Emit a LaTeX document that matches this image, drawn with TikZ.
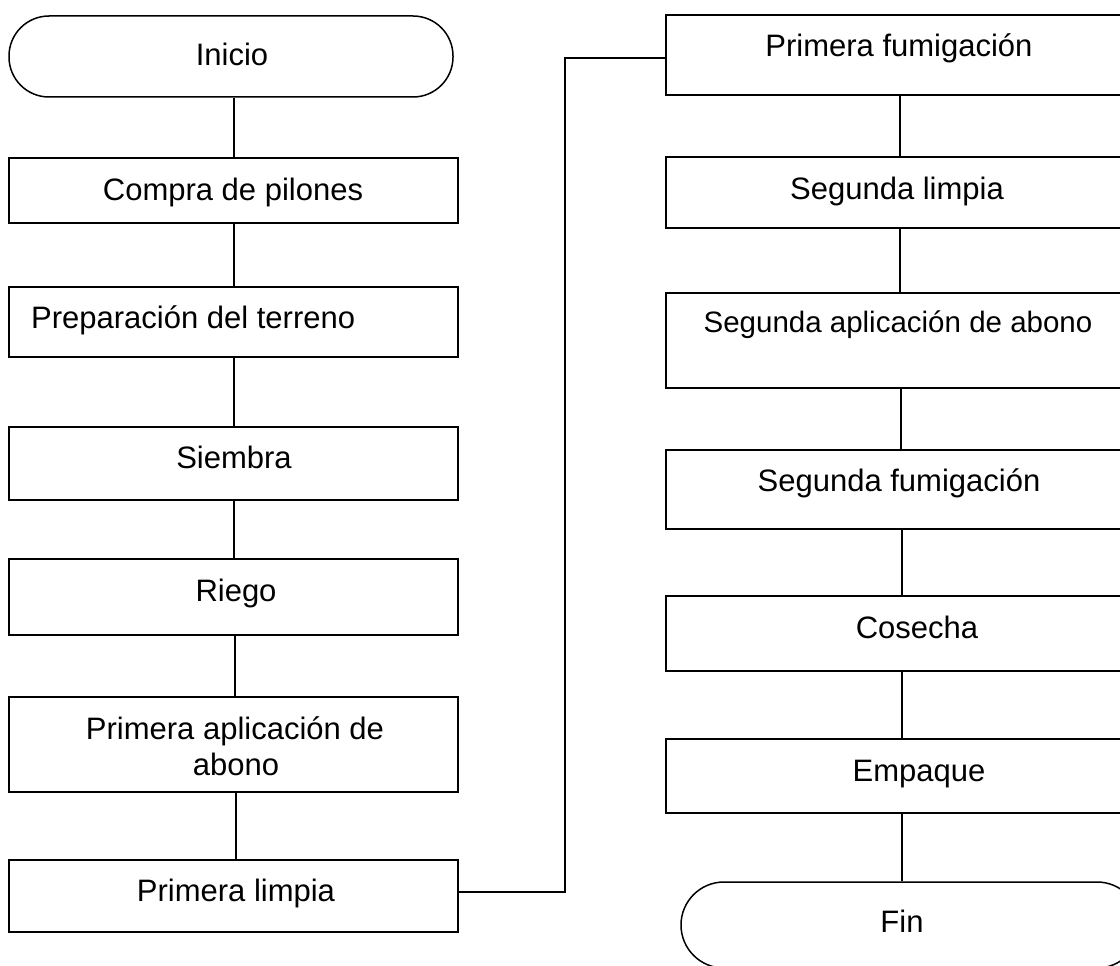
\documentclass[tikz,border=0pt]{standalone}
\usepackage{fontspec}
\setmainfont{Liberation Sans}
\begin{document}
\begin{tikzpicture}[x=1pt,y=-1pt,
  box/.style={draw, line width=1.5pt, inner sep=0pt, minimum width=449pt},
  rbox/.style={draw, line width=1.5pt, inner sep=0pt, minimum width=468pt},
  term/.style={draw, line width=1.5pt, inner sep=0pt},
  lbl/.style={anchor=base, inner sep=0pt, font=\fontsize{31}{36}\selectfont},
  conn/.style={line width=1.3pt}]
\path[use as bounding box] (0,0) rectangle (1120,966);
\clip (0,0) rectangle (1120,966);
% left column
\node[term, rounded corners=40pt, minimum width=444pt, minimum height=81pt] (inicio) at (231,56.5) {};
\node[box, minimum height=65pt] (compra) at (233.5,190.5) {};
\node[box, minimum height=70pt] (prep) at (233.5,322) {};
\node[box, minimum height=73pt] (siembra) at (233.5,463.5) {};
\node[box, minimum height=76pt] (riego) at (233.5,597) {};
\node[box, minimum height=95pt] (pabono) at (233.5,744.5) {};
\node[box, minimum height=72pt] (plimpia) at (233.5,896) {};
% right column
\node[rbox, minimum height=80pt] (pfum) at (900,55) {};
\node[rbox, minimum height=71pt] (slimpia) at (900,192.5) {};
\node[rbox, minimum height=95pt] (sabono) at (900,340.5) {};
\node[rbox, minimum height=79pt] (sfum) at (900,489.5) {};
\node[rbox, minimum height=75pt] (cosecha) at (900,633.5) {};
\node[rbox, minimum height=74pt] (empaque) at (900,776) {};
\node[term, rounded corners=43pt, minimum width=459pt, minimum height=86pt] (fin) at (910.5,925) {};
% labels
\node[lbl] (tinicio) at (232,66) {Inicio};
\node[lbl] (tcompra) at (233,200) {Compra de pilones};
\node[lbl, anchor=base west] (tprep) at (31,328) {Preparación del terreno};
\node[lbl] (tsiembra) at (234,468) {Siembra};
\node[lbl] (triego) at (236,601) {Riego};
\node[lbl] (tpabonoa) at (235,739.5) {Primera aplicación de};
\node[lbl] (tpabonob) at (236,775) {abono};
\node[lbl] (tplimpia) at (236,901) {Primera limpia};
\node[lbl] (tpfum) at (899,57) {Primera fumigación};
\node[lbl] (tslimpia) at (897,199) {Segunda limpia};
\node[lbl, font=\fontsize{29.5}{34}\selectfont] (tsabono) at (898,332) {Segunda aplicación de abono};
\node[lbl] (tsfum) at (899,491) {Segunda fumigación};
\node[lbl] (tcosecha) at (917,638) {Cosecha};
\node[lbl] (tempaque) at (919,781) {Empaque};
\node[lbl] (tfin) at (902,932) {Fin};
% connectors left
\draw[conn] (compra.north -| 234,0) -- (inicio.south -| 234,0);
\draw[conn] (prep.north -| 234,0) -- (compra.south -| 234,0);
\draw[conn] (siembra.north -| 234,0) -- (prep.south -| 234,0);
\draw[conn] (riego.north -| 234,0) -- (siembra.south -| 234,0);
\draw[conn] (pabono.north -| 235,0) -- (riego.south -| 235,0);
\draw[conn] (plimpia.north -| 236,0) -- (pabono.south -| 236,0);
% connectors right
\draw[conn] (slimpia.north -| 900,0) -- (pfum.south -| 900,0);
\draw[conn] (sabono.north -| 900,0) -- (slimpia.south -| 900,0);
\draw[conn] (sfum.north -| 901,0) -- (sabono.south -| 901,0);
\draw[conn] (cosecha.north -| 902,0) -- (sfum.south -| 902,0);
\draw[conn] (empaque.north -| 902,0) -- (cosecha.south -| 902,0);
\draw[conn] (fin.north -| 902,0) -- (empaque.south -| 902,0);
% long connector
\coordinate (bend) at (565,892);
\draw[conn] ([yshift=4pt]plimpia.east) -- (bend) |- ([yshift=-3pt]pfum.west);
\end{tikzpicture}
\end{document}
